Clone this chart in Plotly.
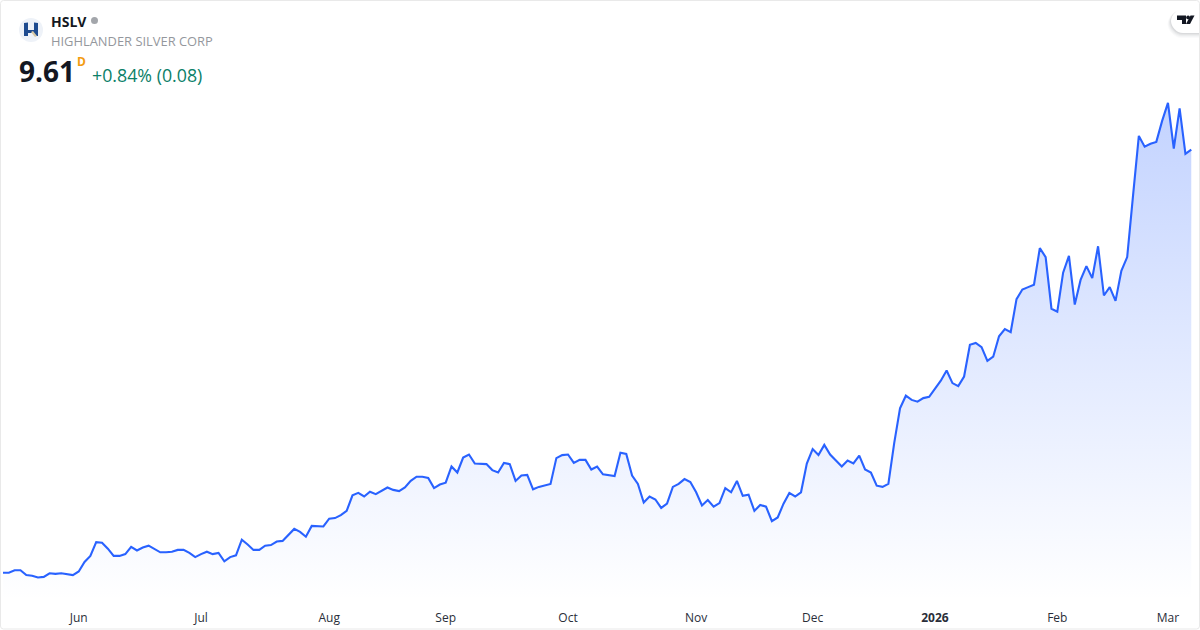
import plotly.graph_objects as go

symbol = "HSLV"
company = "HIGHLANDER SILVER CORP"
last_price = "9.61"
interval = "D"
change_text = "+0.84% (0.08)"
tick_index = [13, 34, 56, 76, 97, 119, 139, 160, 181, 200]
tick_labels = ["Jun", "Jul", "Aug", "Sep", "Oct", "Nov", "Dec", "<b>2026</b>", "Feb", "Mar"]

close_may_aug = [2.56, 2.56, 2.60, 2.60, 2.52, 2.51, 2.48, 2.49, 2.55, 2.54, 2.55, 2.53, 2.52,
                 2.58, 2.74, 2.84, 3.07, 3.06, 2.96, 2.84, 2.84, 2.87, 2.99, 2.93, 2.98, 3.01,
                 2.96, 2.90, 2.90, 2.91, 2.94, 2.94, 2.89, 2.82, 2.87, 2.91, 2.87, 2.89, 2.75,
                 2.82, 2.85, 3.11, 3.03, 2.94, 2.94, 3.01, 3.02, 3.08, 3.09, 3.19, 3.29, 3.24,
                 3.16, 3.34, 3.33, 3.33]
close_aug_oct = [3.46, 3.47, 3.52, 3.59, 3.85, 3.89, 3.83, 3.91, 3.87, 3.93, 3.98, 3.94, 3.92,
                 3.98, 4.09, 4.16, 4.16, 4.14, 3.97, 4.03, 4.06, 4.33, 4.23, 4.48, 4.53, 4.38,
                 4.38, 4.37, 4.27, 4.23, 4.39, 4.37, 4.09, 4.18, 4.19, 3.95, 3.99, 4.02, 4.04,
                 4.47, 4.52, 4.53, 4.39, 4.44, 4.44, 4.28, 4.33]
close_oct_dec = [4.20, 4.18, 4.17, 4.56, 4.54, 4.18, 4.04, 3.73, 3.83, 3.78, 3.64, 3.71, 3.99,
                 4.04, 4.12, 4.07, 3.90, 3.68, 3.77, 3.66, 3.72, 3.97, 3.90, 4.09, 3.84, 3.86,
                 3.59, 3.69, 3.66, 3.42, 3.48, 3.71, 3.89, 3.83, 3.90, 4.38, 4.62, 4.52, 4.69,
                 4.53, 4.43, 4.33, 4.43, 4.38, 4.51, 4.28, 4.23, 4.01, 3.99, 4.04]
close_dec_mar = [4.72, 5.30, 5.51, 5.44, 5.41, 5.47, 5.49, 5.63, 5.76, 5.93, 5.72, 5.67, 5.83,
                 6.36, 6.39, 6.32, 6.09, 6.16, 6.50, 6.62, 6.57, 7.12, 7.28, 7.32, 7.36, 7.97,
                 7.82, 6.96, 6.91, 7.56, 7.84, 7.03, 7.44, 7.67, 7.47, 8.00, 7.18, 7.32, 7.09,
                 7.59, 7.82, 8.84, 9.84, 9.66, 9.71, 9.74, 10.09, 10.39, 9.63, 10.30, 9.54, 9.61]

close = close_may_aug + close_aug_oct + close_oct_dec + close_dec_mar
idx = list(range(len(close)))

W, H, PLOT_H = 1200, 630, 600
px = lambda v: v / W
py = lambda v: (PLOT_H - v) / PLOT_H

fig = go.Figure(go.Scatter(
    x=idx, y=close, mode="lines",
    line=dict(color="#2962FF", width=2.1, shape="linear"),
    fill="tozeroy",
    fillgradient=dict(type="vertical", start=10.39, stop=2.105,
                      colorscale=[[0, "rgba(41,98,255,0.28)"], [1, "rgba(41,98,255,0.0)"]]),
    hoverinfo="skip", showlegend=False,
))


def note(x, y, text, size, color, family="Open Sans"):
    fig.add_annotation(xref="paper", yref="paper", x=px(x), y=py(y), text=text, showarrow=False,
                       xanchor="left", yanchor="middle", align="left",
                       font=dict(size=size, color=color, family=family), borderpad=0, borderwidth=0)


def box(x0, y0, x1, y1, kind="rect", fill="#000000"):
    fig.add_shape(type=kind, xref="paper", yref="paper", x0=px(x0), y0=py(y0), x1=px(x1), y1=py(y1),
                  fillcolor=fill, line=dict(color=fill, width=0), layer="above")


def poly(points, fill="#000000"):
    d = "M" + " L".join(f"{px(a):.5f},{py(b):.5f}" for a, b in points) + " Z"
    fig.add_shape(type="path", xref="paper", yref="paper", path=d, fillcolor=fill,
                  line=dict(color="rgba(0,0,0,0)", width=0), layer="above")


def pill(x, top, bottom, fill):
    r = (bottom - top) / 2
    mid = x + r
    d = (f"M{px(1200)},{py(top)} L{px(mid)},{py(top)} "
         f"C{px(x + 0.45 * r)},{py(top)} {px(x)},{py(top + 0.55 * r)} {px(x)},{py(top + r)} "
         f"C{px(x)},{py(bottom - 0.55 * r)} {px(x + 0.45 * r)},{py(bottom)} {px(mid)},{py(bottom)} "
         f"L{px(1200)},{py(bottom)} Z")
    fig.add_shape(type="path", xref="paper", yref="paper", path=d, fillcolor=fill,
                  line=dict(color="rgba(0,0,0,0)", width=0), layer="above")


note(51, 21, f"<b>{symbol}</b>", 14, "#131722")
note(51, 41, company, 12.9, "#94979D")
note(19, 71, f"<b>{last_price}</b>", 28, "#131722")
note(77, 61, f"<b>{interval}</b>", 12, "#F39C12")
note(92, 75, change_text, 17.8, "#0B8068")
box(91, 17, 98, 24, "circle", "#A3A6AB")

# logo
box(19, 18, 43, 42, "circle", "#EEF2F8")
poly([(24, 23), (28, 22.5), (28, 30), (34, 30), (34, 22.5), (38, 23), (38, 36), (34, 36), (34, 33),
      (28, 33), (28, 36), (24, 36)], "#1E4B8F")
poly([(31, 32), (33, 31), (37, 36), (35, 37)], "#D8C9A6")

# watermark badge with its soft shadow
for grow, alpha in ((5, 0.02), (4, 0.025), (3, 0.03), (2, 0.04), (1, 0.05)):
    pill(1171 - grow * 0.7, 10, 33 + grow, f"rgba(19,23,34,{alpha})")
pill(1171, 9, 33, "#FFFFFF")
poly([(1177, 15.5), (1186, 15.5), (1186, 24), (1182, 24), (1182, 20), (1177, 20)], "#131722")
box(1186.2, 15.5, 1190, 19.3, "circle", "#131722")
poly([(1190.5, 15.5), (1194.5, 15.5), (1190, 24), (1186, 24)], "#131722")

# frame with slightly rounded corners
r, a, b, c, d = 3, 0.5, 1199.5, 0.5, 629
fig.add_shape(type="path", xref="paper", yref="paper", fillcolor="rgba(0,0,0,0)", layer="above",
              line=dict(color="#E9E9E9", width=1),
              path=(f"M{px(a + r)},{py(c)} L{px(b - r)},{py(c)} Q{px(b)},{py(c)} {px(b)},{py(c + r)} "
                    f"L{px(b)},{py(d - r)} Q{px(b)},{py(d)} {px(b - r)},{py(d)} "
                    f"L{px(a + r)},{py(d)} Q{px(a)},{py(d)} {px(a)},{py(d - r)} "
                    f"L{px(a)},{py(c + r)} Q{px(a)},{py(c)} {px(a + r)},{py(c)} Z"))

fig.update_layout(
    width=W, height=H, margin=dict(l=0, r=0, t=0, b=H - PLOT_H, pad=0),
    paper_bgcolor="#FFFFFF", plot_bgcolor="#FFFFFF",
    font=dict(family="Open Sans", size=12, color="#131722"),
    xaxis=dict(range=[-0.515, 205.5], tickmode="array", tickvals=tick_index, ticktext=tick_labels,
               showgrid=False, zeroline=False, showline=False, ticks="", ticklen=0, ticklabelstandoff=9,
               tickfont=dict(size=12, color="#2A2E39", family="Open Sans")),
    yaxis=dict(range=[2.105, 12.105], visible=False, showgrid=False, zeroline=False),
)
fig.write_html("out.html", config={"displayModeBar": False},
               post_script="document.body.style.margin='0';document.body.style.overflow='hidden';")
